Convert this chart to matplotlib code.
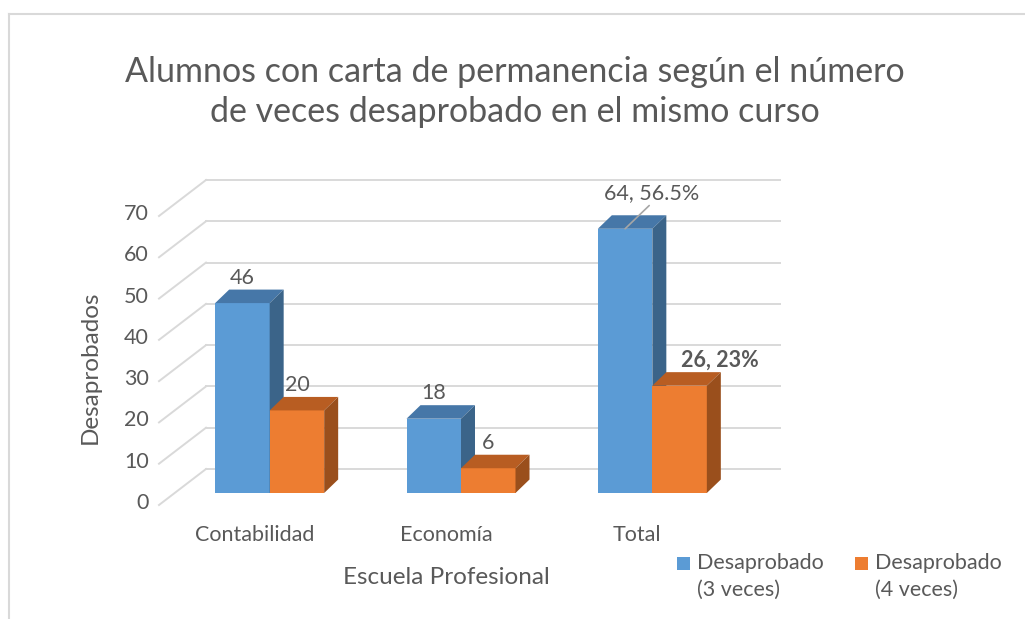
import matplotlib.pyplot as plt
from matplotlib.patches import Polygon, Rectangle
from matplotlib.lines import Line2D

plt.rcParams['font.family'] = ['Lato', 'DejaVu Sans']

categorias = ['Contabilidad', 'Economía', 'Total']
tres_veces = [46, 18, 64]
cuatro_veces = [20, 6, 26]
etiquetas_tres = ['46', '18', '64, 56.5%']
etiquetas_cuatro = ['20', '6', '26, 23%']
ticks = [0, 10, 20, 30, 40, 50, 60, 70]

gris = '#595959'
grid_c = '#D9D9D9'

W, H = 1025, 619
fig = plt.figure(figsize=(W / 100, H / 100), dpi=100)

# bar front plane, in pixels from bottom-left
left, right, bottom, top = 174, 748, 126, 415
ax = fig.add_axes([left / W, bottom / H, (right - left) / W, (top - bottom) / H])
ax.set_xlim(-0.5, 2.5)
ax.set_ylim(0, 70)
ax.axis('off')

sx = (right - left) / 3.0
sy = (top - bottom) / 70.0

def px(dx, dy):
    return dx / sx, dy / sy

back = px(32, 24)
front = px(-15, -12)
depth = px(14, 13.5)
bw = 54.5 / sx

# back wall gridlines + left side diagonals
for v in ticks:
    ax.plot([-0.5 + back[0], 2.5 + back[0]], [v + back[1]] * 2,
            color=grid_c, lw=1.4, clip_on=False, zorder=1)
    ax.plot([-0.5 + front[0], -0.5 + back[0]], [v + front[1], v + back[1]],
            color=grid_c, lw=1.4, clip_on=False, zorder=1)
    ax.annotate(str(v), (-0.5 + front[0], v + front[1]), xytext=(-10, 2),
                textcoords='offset pixels', ha='right', va='center',
                fontsize=15.5, color=gris, annotation_clip=False)


def bar3d(x0, h, c_front, c_top, c_side):
    dx, dy = depth
    ax.add_patch(Rectangle((x0, 0), bw, h, facecolor=c_front, edgecolor='none',
                           zorder=3, clip_on=False))
    ax.add_patch(Polygon([(x0, h), (x0 + bw, h), (x0 + bw + dx, h + dy), (x0 + dx, h + dy)],
                         closed=True, facecolor=c_top, edgecolor='none', zorder=3, clip_on=False))
    ax.add_patch(Polygon([(x0 + bw, 0), (x0 + bw + dx, dy), (x0 + bw + dx, h + dy), (x0 + bw, h)],
                         closed=True, facecolor=c_side, edgecolor='none', zorder=3, clip_on=False))


for i in range(len(categorias)):
    bar3d(i - bw, tres_veces[i], '#5B9BD5', '#4677A8', '#3B6489')
    bar3d(i, cuatro_veces[i], '#ED7D31', '#B85D22', '#9A4F1C')

    # category labels on the front floor
    ax.annotate(categorias[i], (i + front[0], front[1]), xytext=(0, -30),
                textcoords='offset pixels', ha='center', va='center',
                fontsize=15.5, color=gris, annotation_clip=False)

# data labels
for i in range(2):
    ax.annotate(etiquetas_tres[i], (i - bw / 2, tres_veces[i] + depth[1]), xytext=(0, 2),
                textcoords='offset pixels', ha='center', va='bottom',
                fontsize=15.5, color=gris, zorder=5)
    ax.annotate(etiquetas_cuatro[i], (i + bw / 2, cuatro_veces[i] + depth[1]), xytext=(0, 2),
                textcoords='offset pixels', ha='center', va='bottom',
                fontsize=15.5, color=gris, zorder=5)

ax.annotate(etiquetas_tres[2], (2 - bw / 2, tres_veces[2]), xytext=(27, 26),
            textcoords='offset pixels', ha='center', va='bottom',
            fontsize=15.5, color=gris, zorder=5, annotation_clip=False,
            arrowprops=dict(arrowstyle='-', color='#A6A6A6', lw=1.2,
                            shrinkA=0, shrinkB=0, relpos=(0.5, 0)))
ax.annotate(etiquetas_cuatro[2], (2 + bw / 2, cuatro_veces[2] + depth[1]), xytext=(40, 1),
            textcoords='offset pixels', ha='center', va='bottom',
            fontsize=15.5, color=gris, fontweight='bold', zorder=5)

# axis titles
fig.text(90 / W, 1 - 367 / H, 'Desaprobados', rotation=90, ha='center', va='center',
         fontsize=17.5, color=gris)
fig.text(446 / W, 1 - 577 / H, 'Escuela Profesional', ha='center', va='center',
         fontsize=17.5, color=gris)

# title
fig.text(515 / W, 1 - 92 / H,
         'Alumnos con carta de permanencia según el número\nde veces desaprobado en el mismo curso',
         ha='center', va='center', fontsize=24.5, color=gris,
         linespacing=1.3)

# legend
for xs, col, txt in [(677, '#5B9BD5', 'Desaprobado\n(3 veces)'),
                     (855, '#ED7D31', 'Desaprobado\n(4 veces)')]:
    fig.add_artist(Rectangle((xs / W, 1 - 570 / H), 13 / W, 13 / H, facecolor=col,
                             edgecolor='none', transform=fig.transFigure))
    fig.text((xs + 20) / W, 1 - 553 / H, txt, ha='left', va='top', fontsize=15.5,
             color=gris, linespacing=1.4)

# chart frame
fig.add_artist(Line2D([9 / W, 9 / W], [0, 1 - 14 / H], color=grid_c, lw=1.5,
                      transform=fig.transFigure))
fig.add_artist(Line2D([9 / W, 1], [1 - 14 / H, 1 - 14 / H], color=grid_c, lw=1.5,
                      transform=fig.transFigure))

plt.savefig('out.png', dpi=100, facecolor='white')
